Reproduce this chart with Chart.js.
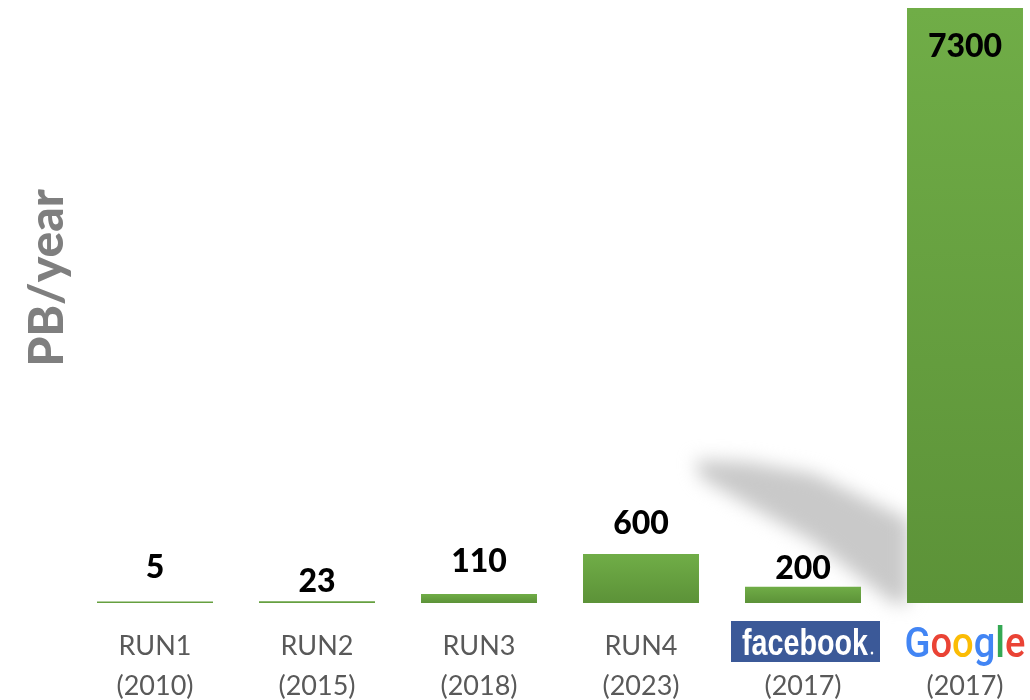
<!DOCTYPE html>
<html>
<head>
<meta charset="utf-8">
<script src="https://cdn.jsdelivr.net/npm/chart.js@4.4.1/dist/chart.umd.min.js"></script>
<style>
  html, body { margin: 0; padding: 0; background: #fff; overflow: hidden; width: 1030px; height: 700px; }
  canvas { display: block; }
</style>
</head>
<body>
<canvas id="chart" width="1060" height="700"></canvas>
<script>
// Yearly data volume, petabytes per year
const categories = ['RUN1', 'RUN2', 'RUN3', 'RUN4', 'facebook', 'Google'];
const years = ['(2010)', '(2015)', '(2018)', '(2023)', '(2017)', '(2017)'];
const volumes = [5, 23, 110, 600, 200, 7300];
const logoCategories = ['facebook', 'Google'];
const axisTitle = 'PB/year';

const GREEN_TOP = '#70ad47';
const GREEN_BOTTOM = '#5c9238';

// Vertical gradient spanning each bar's own height
function barFill(context) {
  const chart = context.chart;
  const yScale = chart.scales && chart.scales.y;
  if (!yScale || context.type !== 'data') return GREEN_TOP;
  const v = volumes[context.dataIndex];
  const top = yScale.getPixelForValue(v);
  const base = yScale.getPixelForValue(0);
  if (!isFinite(top) || !isFinite(base) || base - top < 2) return '#66a040';
  const g = chart.ctx.createLinearGradient(0, top, 0, base);
  g.addColorStop(0, GREEN_TOP);
  g.addColorStop(1, GREEN_BOTTOM);
  return g;
}

// Soft grey drop shadow falling across the gap between the RUN4 and Google columns
const softShadow = {
  id: 'softShadow',
  beforeDatasetsDraw(chart) {
    const { ctx, scales: { x, y } } = chart;
    const cx = x.getPixelForValue(4);
    const base = y.getPixelForValue(0);
    ctx.save();
    ctx.filter = 'blur(9px)';
    ctx.fillStyle = '#c9c9c9';
    ctx.beginPath();
    ctx.moveTo(cx - 108, base - 143);
    ctx.lineTo(cx - 55, base - 141);
    ctx.lineTo(cx + 11, base - 129);
    ctx.lineTo(cx + 106, base - 83);
    ctx.lineTo(cx + 106, base);
    ctx.lineTo(cx + 90, base);
    ctx.lineTo(cx + 11, base - 61);
    ctx.lineTo(cx - 55, base - 98);
    ctx.lineTo(cx - 102, base - 125);
    ctx.closePath();
    ctx.fill();
    ctx.restore();
  }
};

// Bold value labels above (or inside) each column
const valueLabels = {
  id: 'valueLabels',
  afterDatasetsDraw(chart, args, opts) {
    const { ctx } = chart;
    const meta = chart.getDatasetMeta(0);
    ctx.save();
    ctx.font = '900 32px Lato, "Open Sans", sans-serif';
    ctx.fillStyle = '#000';
    ctx.textAlign = 'center';
    ctx.textBaseline = 'alphabetic';
    meta.data.forEach((bar, i) => {
      const gap = opts.gaps[i];
      ctx.fillText(String(volumes[i]), bar.x, bar.y - gap);
    });
    ctx.restore();
  }
};

// Rotated y-axis caption
const sideTitle = {
  id: 'sideTitle',
  afterDraw(chart) {
    const { ctx } = chart;
    ctx.save();
    ctx.translate(63, 278);
    ctx.rotate(-Math.PI / 2);
    ctx.font = '900 48px Lato, "Open Sans", sans-serif';
    ctx.fillStyle = '#7f7f7f';
    ctx.textAlign = 'center';
    ctx.textBaseline = 'alphabetic';
    ctx.fillText(axisTitle, 0, 0);
    ctx.restore();
  }
};

// Company wordmarks in place of the first tick line
const logos = {
  id: 'logos',
  afterDraw(chart) {
    const { ctx, scales: { x } } = chart;
    categories.forEach((name, i) => {
      if (!logoCategories.includes(name)) return;
      const cx = x.getPixelForValue(i);
      ctx.save();
      if (name === 'facebook') {
        ctx.fillStyle = '#3b5998';
        ctx.fillRect(cx - 72, 621, 149, 41);
        ctx.font = 'bold 36px "Liberation Sans", Arial, sans-serif';
        const w = ctx.measureText(name).width;
        const target = 126;
        ctx.translate(cx + 2, 655);
        ctx.scale(target / w, 1);
        ctx.fillStyle = '#fff';
        ctx.textAlign = 'center';
        ctx.textBaseline = 'alphabetic';
        ctx.fillText(name, 0, 0);
        ctx.beginPath();
        ctx.arc(w / 2 + 5, -2, 1.6, 0, Math.PI * 2);
        ctx.fill();
      } else {
        const colors = ['#4285f4', '#ea4335', '#fbbc05', '#4285f4', '#34a853', '#ea4335'];
        ctx.font = '500 42px Roboto, "Open Sans", sans-serif';
        const total = ctx.measureText(name).width;
        const target = 121;
        const k = target / total;
        ctx.translate(cx - target / 2, 657);
        ctx.scale(k, 1);
        ctx.textAlign = 'left';
        ctx.textBaseline = 'alphabetic';
        let pos = 0;
        for (let j = 0; j < name.length; j++) {
          ctx.fillStyle = colors[j % colors.length];
          ctx.fillText(name[j], pos, 0);
          pos += ctx.measureText(name[j]).width;
        }
      }
      ctx.restore();
    });
  }
};

new Chart(document.getElementById('chart'), {
  type: 'bar',
  data: {
    labels: categories,
    datasets: [{
      data: volumes,
      backgroundColor: barFill,
      borderWidth: 0,
      categoryPercentage: 1,
      barPercentage: 0.716,
      minBarLength: 1.5
    }]
  },
  options: {
    responsive: false,
    animation: false,
    layout: { padding: { left: 74, right: 14, top: 8, bottom: 0 } },
    plugins: {
      legend: { display: false },
      tooltip: { enabled: false },
      valueLabels: { gaps: [24, 9, 22, 20, 8, -49] }
    },
    scales: {
      y: {
        display: false,
        min: 0,
        max: 7300
      },
      x: {
        grid: { display: false },
        border: { display: false },
        afterFit(scale) { scale.height = 97; },
        ticks: {
          padding: 15,
          color: '#595959',
          maxRotation: 0,
          autoSkip: false,
          font: { family: 'Lato, "Open Sans", sans-serif', size: 27, lineHeight: 1.5 },
          callback(value, index) {
            const name = categories[index];
            return [logoCategories.includes(name) ? '' : name, years[index]];
          }
        }
      }
    }
  },
  plugins: [softShadow, valueLabels, sideTitle, logos]
});
</script>
</body>
</html>
